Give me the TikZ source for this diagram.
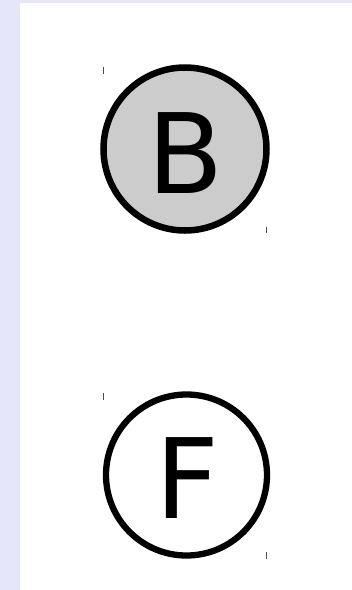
\documentclass[tikz,border=0pt]{standalone}
\usepackage{fontspec}
\setmainfont{DejaVu Sans}
\definecolor{lav}{RGB}{230,230,250}
\definecolor{nodegray}{RGB}{204,204,204}
\begin{document}
\begin{tikzpicture}[x=1pt,y=-1pt,
  ring/.style={draw=black,line width=6.5pt},
  tick/.style={draw=black!70,line width=1pt},
  letter/.style={inner sep=0pt,anchor=base,font=\fontsize{111}{111}\selectfont}]
\fill[lav] (0,0) rectangle (352,590);
\fill[white] (20,3) rectangle (352,590);
\useasboundingbox (0,0) rectangle (352,590);
% node B
\node[ring,fill=nodegray,circle,minimum size=163pt,inner sep=0pt] (B) at (185,149) {};
\node[letter] (Bt) at (186,193) {B};
\draw[tick] (103.5,67) -- (103.5,73.5);
\draw[tick] (266.5,226.5) -- (266.5,233);
% node F
\node[ring,fill=white,circle,minimum size=161pt,inner sep=0pt,line width=6.3pt] (F) at (186.5,475) {};
\node[letter] (Ft) at (187,518) {F};
\draw[tick] (103.5,392.5) -- (103.5,399.5);
\draw[tick] (266.5,551.5) -- (266.5,558.5);
\end{tikzpicture}
\end{document}
